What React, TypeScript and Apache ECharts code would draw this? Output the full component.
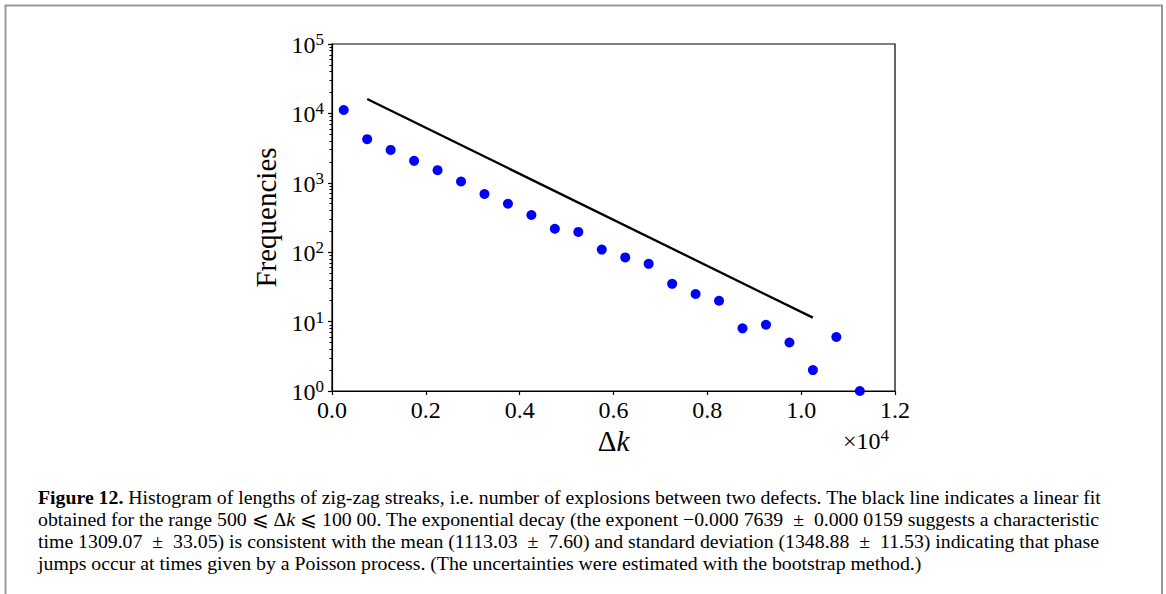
import React, { useEffect, useRef } from "react";
import * as echarts from "echarts";

// Histogram bin centres (Δk) and frequencies
const binCenters = [250, 750, 1250, 1750, 2250, 2750, 3250, 3750, 4250, 4750, 5250, 5750, 6250, 6750, 7250, 7750, 8250, 8750, 9250, 9750, 10250, 10750, 11250];
const frequencies = [11200, 4250, 2980, 2070, 1520, 1045, 689, 499, 344, 218, 196, 109, 84, 68, 35, 25, 20, 8, 9, 5, 2, 6, 1];

// Linear fit (in log space) end points
const fitX = [750, 10250];
const fitY = [16100, 11.4];

// Axis settings
const xMin = 0;
const xMax = 12000;
const xInterval = 2000;
const xScaleDivisor = 10000;
const yMin = 1;
const yMax = 100000;

const captionLines = [
  "{b|Figure 12.} Histogram of lengths of zig-zag streaks, i.e. number of explosions between two defects. The black line indicates a linear fit",
  "obtained for the range 500 ⩽ Δ{i|k} ⩽ 100 00. The exponential decay (the exponent −0.000 7639  ±  0.000 0159 suggests a characteristic",
  "time 1309.07  ±  33.05) is consistent with the mean (1113.03  ±  7.60) and standard deviation (1348.88  ±  11.53) indicating that phase",
  "jumps occur at times given by a Poisson process. (The uncertainties were estimated with the bootstrap method.)",
];

const MATH_FONT = "'Liberation Serif', 'DejaVu Serif', serif";
const CAP_FONT = "'Liberation Serif', 'DejaVu Serif', serif";
const CAP_SIZE = 19.8;

export default function App() {
  const ref = useRef<HTMLDivElement>(null);

  useEffect(() => {
    if (!ref.current) return;
    const chart = echarts.init(ref.current, null, { renderer: "svg" });

    const minorTicks: number[] = [];
    for (let d = 1; d < yMax; d *= 10) {
      for (let m = 2; m <= 9; m++) minorTicks.push(m * d);
    }

    const capRich = {
      b: { fontFamily: CAP_FONT, fontSize: CAP_SIZE, fontWeight: "bold" as const, color: "#000" },
      i: { fontFamily: CAP_FONT, fontSize: CAP_SIZE, fontStyle: "italic" as const, color: "#000" },
    };

    const option: any = {
      animation: false,
      backgroundColor: "#fff",
      grid: {
        left: 332,
        right: 271,
        top: 44,
        bottom: 203,
        show: true,
        borderColor: "#000",
        borderWidth: 1.2,
        backgroundColor: "transparent",
      },
      xAxis: [
        {
          type: "value",
          min: xMin,
          max: xMax,
          interval: xInterval,
          axisLine: { show: true, onZero: false, lineStyle: { color: "#000", width: 1.2 } },
          axisTick: { show: true, length: 4, lineStyle: { color: "#000", width: 1.2 } },
          axisLabel: {
            formatter: (v: number) => (v / xScaleDivisor).toFixed(1),
            fontFamily: MATH_FONT,
            fontSize: 24,
            color: "#000",
            margin: 7,
          },
          splitLine: { show: false },
          name: "{d|Δ}{k|k}",
          nameLocation: "middle",
          nameGap: 33,
          nameTextStyle: {
            rich: {
              d: { fontFamily: MATH_FONT, fontSize: 29, color: "#000" },
              k: { fontFamily: MATH_FONT, fontSize: 29, fontStyle: "italic", color: "#000" },
            },
          },
        },
      ],
      yAxis: [
        {
          type: "log",
          logBase: 10,
          min: yMin,
          max: yMax,
          axisLine: { show: true, onZero: false, lineStyle: { color: "#000", width: 1.2 } },
          axisTick: { show: true, length: 4, lineStyle: { color: "#000", width: 1.2 } },
          axisLabel: {
            formatter: (v: number) => `{b|10}{s|${Math.round(Math.log10(v))}}`,
            margin: 8,
            rich: {
              b: { fontFamily: MATH_FONT, fontSize: 24, color: "#000", lineHeight: 26, verticalAlign: "bottom" },
              s: { fontFamily: MATH_FONT, fontSize: 17, color: "#000", lineHeight: 17, verticalAlign: "top" },
            },
          },
          splitLine: { show: false },
          name: "Frequencies",
          nameLocation: "middle",
          nameRotate: 90,
          nameGap: 52,
          nameTextStyle: { fontFamily: MATH_FONT, fontSize: 29, color: "#000" },
        },
        {
          type: "log",
          logBase: 10,
          min: yMin,
          max: yMax,
          position: "left",
          offset: 0,
          axisLine: { show: false },
          axisTick: { show: true, length: 2.5, customValues: minorTicks, lineStyle: { color: "#000", width: 1 } },
          axisLabel: { show: false },
          splitLine: { show: false },
        },
      ],
      series: [
        {
          type: "line",
          xAxisIndex: 0,
          yAxisIndex: 0,
          data: fitX.map((x, i) => [x, fitY[i]]),
          showSymbol: false,
          symbol: "none",
          lineStyle: { color: "#000", width: 2.3 },
          z: 2,
        },
        {
          type: "scatter",
          xAxisIndex: 0,
          yAxisIndex: 0,
          data: binCenters.map((x, i) => [x, frequencies[i]]),
          symbolSize: 10,
          itemStyle: { color: "#0000ff", opacity: 1 },
          z: 3,
        },
      ],
      graphic: [
        {
          type: "rect",
          silent: true,
          z: -10,
          shape: { x: 5.5, y: 5.5, width: 1156.5, height: 640 },
          style: { fill: "none", stroke: "#999", lineWidth: 2 },
        },
        {
          type: "text",
          x: 889,
          y: 440,
          style: {
            text: "{a|×10}{s|4}",
            align: "right",
            verticalAlign: "middle",
            rich: {
              a: { fontFamily: MATH_FONT, fontSize: 24, color: "#000", lineHeight: 26, verticalAlign: "bottom" },
              s: { fontFamily: MATH_FONT, fontSize: 17, color: "#000", lineHeight: 17, verticalAlign: "top" },
            },
          },
        },
        ...captionLines.map((t, i) => ({
          type: "text",
          x: 38,
          y: 497 + i * 22,
          style: {
            text: t,
            fontFamily: CAP_FONT,
            fontSize: CAP_SIZE,
            fill: "#000",
            align: "left",
            verticalAlign: "middle",
            rich: capRich,
          },
        })),
      ],
    };

    chart.setOption(option);
    return () => chart.dispose();
  }, []);

  return (
    <div
      ref={ref}
      style={{ position: "absolute", left: 0, top: 0, width: 1166, height: 594, background: "#fff" }}
    />
  );
}
